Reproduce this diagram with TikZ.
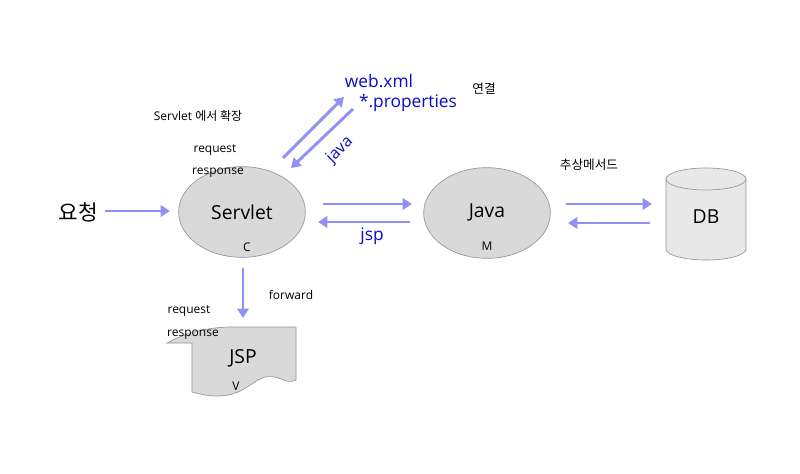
\documentclass[tikz,border=0pt]{standalone}
\usepackage{fontspec}
\setmainfont{Open Sans}
\newfontfamily\kr{Noto Sans CJK KR}
\usetikzlibrary{arrows.meta,shapes.geometric}
\definecolor{arrc}{RGB}{145,145,245}
\definecolor{bluet}{RGB}{10,10,200}
\definecolor{shapefill}{RGB}{217,217,217}
\definecolor{dbfill}{RGB}{232,232,232}
\definecolor{edgec}{RGB}{150,150,150}
\newcommand\pxs[1]{\fontsize{#1}{#1}\selectfont}
\tikzset{
  arr/.style={draw=arrc, line width=2.2pt, -{Triangle[length=7pt,width=8.5pt]}},
  ell/.style={ellipse, fill=shapefill, draw=edgec, line width=0.5pt, minimum width=95pt, minimum height=68pt, inner sep=0pt},
  lbl/.style={inner sep=0pt, font=\pxs{9pt}},
  blue/.style={inner sep=0pt, text=bluet, font=\pxs{13pt}},
  big/.style={inner sep=0pt, font=\pxs{14.5pt}},
}
\begin{document}
\begin{tikzpicture}[x=0.75pt,y=-0.75pt]
\useasboundingbox (0,0) rectangle (800,474);
\fill[white] (0,0) rectangle (800,474);

% shapes
\node[ell] (servlet) at (242,212) {};
\node[big] (servlett) at (242,212) {Servlet};
\node[lbl] (c) at (247,247) {C};

\node[ell] (java) at (487,213) {};
\node[big] (javat) at (487,212) {Java};
\node[lbl] (m) at (487,246) {M};

% DB cylinder
\path[fill=dbfill, draw=edgec, line width=0.5pt]
  (666,179) -- (666,249) arc[start angle=180, end angle=360, x radius=40, y radius=-11]
  -- (746,179) arc[start angle=0, end angle=180, x radius=40, y radius=-11] -- cycle;
\draw[edgec, line width=0.5pt] (666,179) arc[start angle=180, end angle=360, x radius=40, y radius=-11];
\node[big] (db) at (706,217) {DB};

% JSP document shape
\path[fill=shapefill, draw=edgec, line width=0.5pt]
  (167,343) .. controls (185,333) and (205,328) .. (228,327) -- (296,327) -- (296,380)
  .. controls (285,386) and (278,372) .. (262,378)
  .. controls (245,386) and (235,404) .. (192,392) -- (192,343) -- cycle;
\node[big] (jsp) at (243,358) {JSP};
\node[lbl] (v) at (236,386) {V};

% texts
\node[inner sep=0pt, font=\pxs{16pt}\kr] (req) at (78,212) {요청};
\node[lbl] (ext) at (198,116) {Servlet {\kr 에서 확장}};
\node[lbl] (rq1) at (215,150) {request};
\node[lbl] (rs1) at (218,173) {response};
\node[blue] (web) at (379,81) {web.xml};
\node[blue] (prop) at (408,103) {*.properties};
\node[lbl, font=\pxs{9.5pt}\kr] (yk) at (484,89) {연결};
\node[blue, rotate=45, font=\pxs{12pt}] (javal) at (340,150) {java};
\node[blue] (jspl) at (372,236) {jsp};
\node[lbl, font=\pxs{9.5pt}\kr] (abs) at (589,165) {추상메서드};
\node[lbl] (fw) at (291,295) {forward};
\node[lbl] (rq2) at (189,311) {request};
\node[lbl] (rs2) at (193,335) {response};

% arrows
\coordinate (a1s) at (105,211); \coordinate (a1e) at (170,211);
\draw[arr] (a1s) -- (a1e);
\coordinate (d1s) at (283,158); \coordinate (d1e) at (344,97);
\draw[arr] (d1s) -- (d1e);
\coordinate (d2s) at (353,109); \coordinate (d2e) at (291,168);
\draw[arr] (d2s) -- (d2e);
\coordinate (h1s) at (323,204); \coordinate (h1e) at (412,204);
\draw[arr] (h1s) -- (h1e);
\coordinate (h2s) at (410,222); \coordinate (h2e) at (318,222);
\draw[arr] (h2s) -- (h2e);
\coordinate (k1s) at (566,204); \coordinate (k1e) at (652,204);
\draw[arr] (k1s) -- (k1e);
\coordinate (k2s) at (650,223); \coordinate (k2e) at (568,223);
\draw[arr] (k2s) -- (k2e);
\coordinate (fs) at (243,268); \coordinate (fe) at (243,318);
\draw[arr] (fs) -- (fe);
\end{tikzpicture}
\end{document}
